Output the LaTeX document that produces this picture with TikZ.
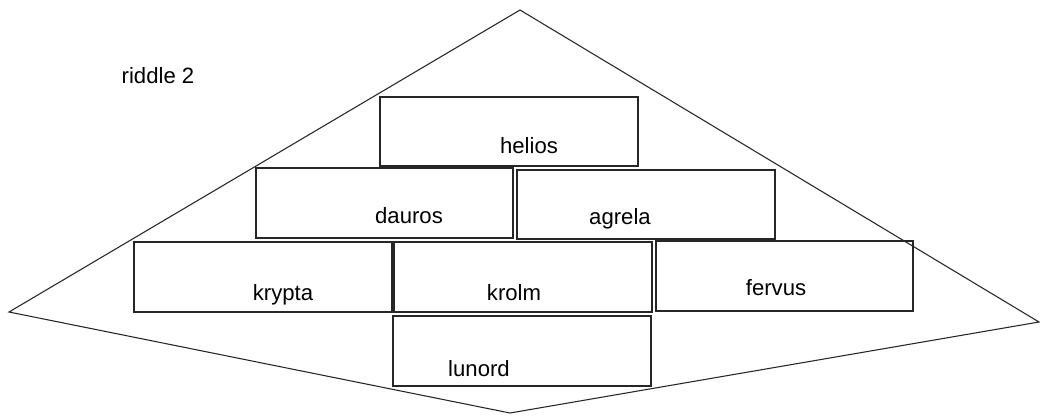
\documentclass[tikz,border=0pt]{standalone}
\usepackage{fontspec}
\setmainfont{Liberation Sans}
\usepackage{tikz}
\usetikzlibrary{positioning, calc}

\tikzset{
	brick/.style={draw=black!85, line width=0.9pt},
	word/.style={anchor=base, inner sep=0pt, font=\fontsize{16.6}{19}\selectfont}
}

\begin{document}
\begin{tikzpicture}[x=0.75pt, y=-0.75pt]
					\useasboundingbox (0,0) rectangle (1040,415);
					
					% Rombo esterno
					\coordinate (T) at (520,10);
					\coordinate (R) at (1039,322);
					\coordinate (B) at (510,413);
					\coordinate (L) at (9,312);
					\draw[line width=0.8pt, black!85] (T) -- (R) -- (B) -- (L) -- cycle;
					
					% Titolo
					\node[word] (title) at (158,83) {riddle 2};
					
					% Mattoni
					\draw[brick] (380,97) rectangle (638,166);
					\draw[brick] (256,168) rectangle (513,238);
					\draw[brick] (517,170) rectangle (775,239);
					\draw[brick] (134,242) rectangle (392,312);
					\draw[brick] (394,242) rectangle (652,312);
					\draw[brick] (656,241) rectangle (913,311);
					\draw[brick] (393,316) rectangle (651,386);
					
					% Nomi
					\node[word] (helios) at (529,153) {helios};
					\node[word] (dauros) at (409,223) {dauros};
					\node[word] (agrela) at (620,224) {agrela};
					\node[word] (krypta) at (283,300) {krypta};
					\node[word] (krolm) at (514,300) {krolm};
					\node[word] (fervus) at (776,295) {fervus};
					\node[word] (lunord) at (479,376) {lunord};
				\end{tikzpicture}
\end{document}
